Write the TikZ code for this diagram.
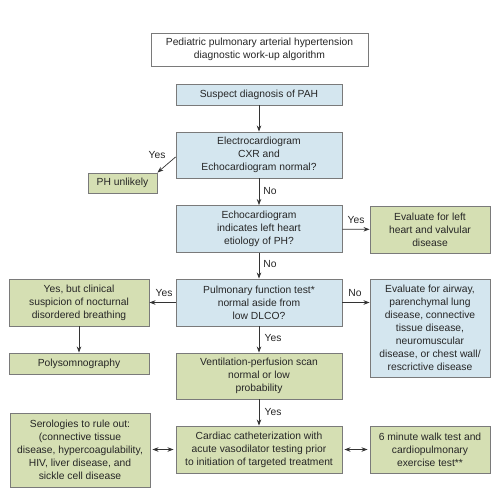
\documentclass[tikz,border=0pt]{standalone}
\usepackage{fontspec}
\setmainfont{Liberation Sans}
\usetikzlibrary{arrows.meta}
\definecolor{qblue}{HTML}{D4E6EF}
\definecolor{qgreen}{HTML}{D5DFB3}
\definecolor{qedge}{HTML}{7A7A7A}
\begin{document}
\begin{tikzpicture}[x=1pt,y=-1pt,
        box/.style={draw=qedge,line width=0.9pt,align=center,inner sep=1pt,
            font=\fontsize{10.3}{13}\selectfont,text=black!85},
        bluebox/.style={box,fill=qblue},
        greenbox/.style={box,fill=qgreen},
        arr/.style={-{Stealth[length=6pt,width=4.5pt]},line width=0.7pt,black!80},
        dbl/.style={{Stealth[length=6pt,width=4.5pt]}-{Stealth[length=6pt,width=4.5pt]},
            line width=0.7pt,black!80,shorten <=2pt,shorten >=2pt},
        lbl/.style={font=\fontsize{10.3}{12}\selectfont,inner sep=1pt,text=black!85}]
            \useasboundingbox (0,0) rectangle (496,495);
            % Nodes
            \node[box,fill=white,minimum width=217pt,minimum height=33pt] (title) at (259.5,49.5)
                {Pediatric pulmonary arterial hypertension\\diagnostic work-up algorithm};
            \node[bluebox,minimum width=166pt,minimum height=21pt] (suspect) at (259,94.5)
                {Suspect diagnosis of PAH};
            \node[bluebox,minimum width=166pt,minimum height=46pt] (ecg) at (259,155)
                {Electrocardiogram\\CXR and\\Echocardiogram normal?};
            \node[greenbox,minimum width=69pt,minimum height=20pt] (unlikely) at (122.5,183)
                {PH unlikely};
            \node[bluebox,minimum width=166pt,minimum height=47pt] (echo) at (259,229)
                {Echocardiogram\\indicates left heart\\etiology of PH?};
            \node[greenbox,minimum width=120pt,minimum height=47pt] (lefth) at (430,229.5)
                {Evaluate for left\\heart and valvular\\disease};
            \node[bluebox,minimum width=166pt,minimum height=47pt] (pft) at (259,302.5)
                {Pulmonary function test*\\normal aside from\\low DLCO?};
            \node[greenbox,minimum width=140pt,minimum height=47pt] (clin) at (79,302.5)
                {Yes, but clinical\\suspicion of nocturnal\\disordered breathing};
            \node[bluebox,minimum width=120pt,minimum height=98pt] (airway) at (430,328)
                {Evaluate for airway,\\parenchymal lung\\disease, connective\\tissue disease,\\neuromuscular\\disease, or chest wall/\\rescrictive disease};
            \node[greenbox,minimum width=140pt,minimum height=21pt] (poly) at (79,363.5)
                {Polysomnography};
            \node[greenbox,minimum width=166pt,minimum height=46pt] (vq) at (259,376)
                {Ventilation-perfusion scan\\normal or low\\probability};
            \node[greenbox,minimum width=140pt,minimum height=74pt] (sero) at (80,450)
                {Serologies to rule out:\\(connective tissue\\disease, hypercoagulability,\\HIV, liver disease, and\\sickle cell disease};
            \node[greenbox,minimum width=166pt,minimum height=47pt] (cath) at (259,449.5)
                {Cardiac catheterization with\\acute vasodilator testing prior\\to initiation of targeted treatment};
            \node[greenbox,minimum width=120pt,minimum height=47pt] (walk) at (430,449.5)
                {6 minute walk test and\\cardiopulmonary\\exercise test**};
            % Arrows
            \draw[arr] (suspect) -- (ecg);
            \draw[arr] (ecg) -- (echo);
            \draw[arr] ([yshift=-2pt]ecg.west) -- (unlikely.north east);
            \draw[arr] (echo) -- (lefth);
            \draw[arr] (echo) -- (pft);
            \draw[arr] (pft) -- (clin);
            \draw[arr] (pft) -- (pft -| airway.west);
            \draw[arr] (clin) -- (poly);
            \draw[arr] (pft) -- (vq);
            \draw[arr] (vq) -- (cath);
            \draw[dbl] (cath) -- (cath -| sero.east);
            \draw[dbl] (cath) -- (walk);
            % Labels
            \node[lbl] at (157,155) {Yes};
            \node[lbl] at (270,191) {No};
            \node[lbl] at (356,220) {Yes};
            \node[lbl] at (270,264) {No};
            \node[lbl] at (164,293) {Yes};
            \node[lbl] at (355,293) {No};
            \node[lbl] at (273,338) {Yes};
            \node[lbl] at (273,412) {Yes};
        \end{tikzpicture}
\end{document}
